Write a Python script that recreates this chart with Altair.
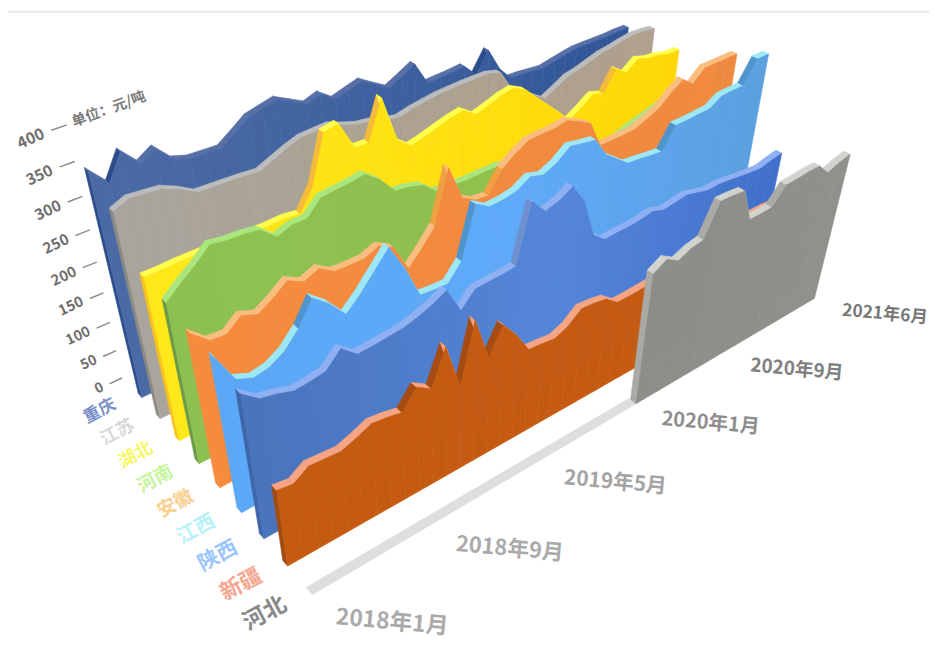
import altair as alt
import pandas as pd

# ---------- data (元/吨) ----------
months_labels = ['2018年1月', '2018年9月', '2019年5月', '2020年1月', '2020年9月', '2021年6月']
months_index = [0, 8, 16, 24, 32, 41]
y_ticks = [0, 50, 100, 150, 200, 250, 300, 350, 400]
names = ['河北', '新疆', '陕西', '江西', '安徽', '河南', '湖北', '江苏', '重庆']
hebei = [0]*24 + [220,232,220,229,233,282,281,279,226,226,227,253,254,256,256,237,244,249]
xinjiang = [132,128,143,141,139,147,157,154,149,177,162,216,141,233,164,204,177,142,140,137,146,164,162,158,142,142,143,144,147,149,153,155,160,165,169,170,171,171,169,168,166,165]
shaanxi = [240,220,215,207,209,213,235,215,216,218,220,226,234,245,203,226,227,228,230,316,293,299,311,281,219,203,204,204,206,210,203,206,209,204,199,200,198,195,193,191,196,200]
jiangxi = [256,211,201,205,218,241,275,256,229,249,273,297,256,205,203,202,227,303,290,291,295,307,301,310,326,322,319,289,274,259,257,254,252,285,285,286,287,299,300,300,334,334]
anhui = [255,233,231,248,239,252,268,256,265,251,250,250,259,247,204,226,251,328,275,263,261,292,307,318,319,319,323,314,303,261,261,261,262,270,278,295,309,295,313,313,313,313]
henan = [266,284,300,319,315,314,311,291,299,299,320,322,324,327,310,285,282,276,258,257,255,255,255,255,248,242,237,232,229,224,221,217,211,215,222,228,233,239,244,247,250,253]
hubei = [271,271,272,272,272,271,271,270,270,271,268,301,369,373,331,330,386,317,301,306,312,318,322,308,314,321,325,315,295,276,257,237,249,263,257,289,276,291,285,283,278,278]
jiangsu = [335,344,342,340,330,317,316,315,314,312,321,330,337,338,339,331,324,321,314,311,316,319,322,323,324,324,324,319,286,277,261,248,258,269,273,279,285,288,292,295,294,292]
chongqing = [364,338,374,349,362,338,331,330,329,343,358,363,368,357,346,353,338,344,350,337,325,335,346,310,311,312,314,294,325,289,267,266,264,262,266,270,273,273,273,273,274,274]
series = [hebei, xinjiang, shaanxi, jiangxi, anhui, henan, hubei, jiangsu, chongqing]

# ---------- styles ----------
face_left  = ['#8e8e88','#c55b11','#4a74bc','#5aa8f6','#f68b3e','#8cc152','#ffe81a','#a9a59c','#4a6aa5']
face_mid   = ['#8f8f89','#c55b12','#5586da','#5eaaf8','#f28a3f','#90c04e','#ffe010','#ada28f','#3d609e']
face_right = ['#91918b','#c45c14','#3f6fc8','#5c9fdf','#ee8a40','#96bf48','#ffd708','#b0a08e','#2f5597']
band_light = ['#d2d2ce','#f5a583','#8fb0f2','#9ce8f6','#f9bd80','#aae67e','#ffff4c','#bcbcbc','#566fa6']
band_dark  = ['#aaaaa6','#a64c12','#6f8fcf','#4f94cc','#f0a040','#6f9f70','#f6bb3a','#8f8f8f','#2c4d8a']
side       = ['#a9a9a5','#a04c12','#3f66a8','#5aa8f6','#f68b3e','#6c9a48','#f9c21f','#8a8a84','#2c4d8a']
label_col  = ['#8a8a8a','#f4a690','#9ac5ff','#b6f2f6','#f9cf90','#c6f59c','#f7f76c','#d8d8d8','#7a90c8']
label_size = [23,22,21,20,19,19,18,18,17]
time_size  = [23,22,21,20,19,17.5]
time_col   = ['#aaaaaa','#aaaaaa','#a4a4a4','#8e8e8e','#808080','#777777']
W, H = 929, 642
DX, DY = 8, 8     # the page margin
DEPTH = 0.2
PANEL_TOP = 10

def P(t, i, v):
    w = 1 + .007*t + .02335*i - .000472*v
    x = 315 + 18.1*t - 18.16*i - .000472*v*462
    y = 597 - 5.2*t - 15.58*i - .000472*v*1745
    return x/w, y/w

def mix(a, b, f):
    ca = [int(a[k:k+2],16) for k in (1,3,5)]
    cb = [int(b[k:k+2],16) for k in (1,3,5)]
    return '#%02x%02x%02x' % tuple(round(p+(q-p)*f) for p,q in zip(ca,cb))

def shade(i, f):
    return mix(face_left[i],face_mid[i],f*2) if f<.5 else mix(face_mid[i],face_right[i],f*2-1)

rows = []
n_poly = [0]
def add(pts, fill):
    pid = n_poly[0]
    n_poly[0] += 1
    closed = list(pts)+[pts[0]]
    for k,(t,i,v) in enumerate(closed):
        x,y = P(t,i,v)
        rows.append(dict(id=pid,k=k,x=x,y=y,f=fill))

for i in range(8,-1,-1):
    vals = series[i]
    s = next(k for k,v in enumerate(vals) if v>0)
    if s>0:
        add([(0,i,0),(s,i,0),(s,i+.25,0),(0,i+.25,0)], '#dedede')
    add([(s,i,vals[s]),(s,i+DEPTH,vals[s]),(s,i+DEPTH,0),(s,i,0)], side[i])
    for t in range(s,41):
        a,b = vals[t],vals[t+1]
        add([(t,i,a),(t+1,i,b),(t+1,i+DEPTH,b),(t,i+DEPTH,a)], band_dark[i] if b-a>25 else band_light[i])
    for t in range(s,41):
        a,b = vals[t],vals[t+1]
        add([(t,i,0),(t+1,i,0),(t+1,i,b),(t,i,a)], shade(i,(t-s)/(41-s)))

df = pd.DataFrame(rows)
sx = alt.Scale(domain=[DX,DX+W],range=[0,W],nice=False,zero=False)
sy = alt.Scale(domain=[DY,DY+H],range=[0,H],nice=False,zero=False)
walls = alt.Chart(df).mark_line(strokeWidth=0.6,interpolate='linear').encode(
    x=alt.X('x:Q',scale=sx,axis=None), y=alt.Y('y:Q',scale=sy,axis=None),
    detail='id:N', order='k:Q',
    fill=alt.Fill('f:N',scale=None), stroke=alt.Stroke('f:N',scale=None))

strips = alt.Chart(pd.DataFrame([
    dict(x=DX,x2=DX+W,y=DY,y2=PANEL_TOP)])).mark_rect(color='#ebe6df').encode(
    x=alt.X('x:Q',scale=sx,axis=None), x2='x2:Q', y=alt.Y('y:Q',scale=sy,axis=None), y2='y2:Q')

ticks = []
for v in y_ticks:
    x,y = P(-1.05+v*.001,9,v); x2,y2 = P(-0.15+v*.001,9,v)
    ticks.append(dict(x=x,y=y,x2=x2,y2=y2))
tickl = alt.Chart(pd.DataFrame(ticks)).mark_rule(color='#8a8a8a',strokeWidth=1.4).encode(
    x=alt.X('x:Q',scale=sx,axis=None), y=alt.Y('y:Q',scale=sy,axis=None), x2='x2:Q', y2='y2:Q')

texts = []
for v in y_ticks:
    x,y = P(-1.5+v*.001,9,v)
    texts.append(dict(x=x,y=y,s=str(v),a=335,z=14+v/200,c='#6e6e6e',al='right'))
x,y = P(0.6,9,400)
texts.append(dict(x=x,y=y,s='单位：元/吨',a=340,z=14.5,c='#7a7a7a',al='left'))
for i,n in enumerate(names):
    x,y = P(-2.65,i+0.2,0)
    texts.append(dict(x=x,y=y,s=n,a=332,z=label_size[i],c=label_col[i],al='center'))
for j,(t,n) in enumerate(zip(months_index,months_labels)):
    x,y = P(t+2.3,-1.65,0)
    texts.append(dict(x=x,y=y,s=n,a=5,z=time_size[j],c=time_col[j],al='center'))
tdf = pd.DataFrame(texts)
def tlayer(al):
    return alt.Chart(tdf[tdf.al==al]).mark_text(font='Noto Sans CJK SC',fontWeight='bold',align=al,baseline='middle').encode(
        x=alt.X('x:Q',scale=sx,axis=None), y=alt.Y('y:Q',scale=sy,axis=None), text='s:N',
        angle=alt.Angle('a:Q',scale=None), size=alt.Size('z:Q',scale=None,legend=None), color=alt.Color('c:N',scale=None))

chart = alt.layer(strips,walls,tickl,tlayer('right'),tlayer('left'),tlayer('center')).properties(
    width=W,height=H,padding=0,autosize=alt.AutoSizeParams(type='none'),background='white'
).configure_view(stroke=None)
chart.save("out.html",embed_options={"renderer":"svg","actions":False})
